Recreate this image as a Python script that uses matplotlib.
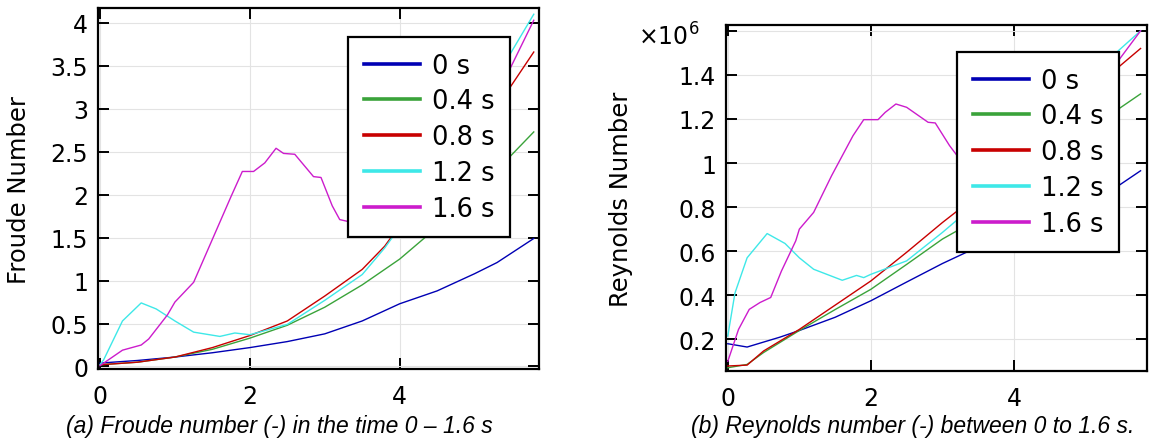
import matplotlib
matplotlib.use("Agg")
import matplotlib.pyplot as plt
from matplotlib.ticker import FuncFormatter

# legend labels / colours
times = ["0 s", "0.4 s", "0.8 s", "1.2 s", "1.6 s"]
colors = ["#0000b4", "#3aa33a", "#c80000", "#3ee8e8", "#cc1ccc"]

# (a) Froude number
fr_x_0 = [0, 0.5, 1, 1.5, 2, 2.5, 3, 3.5, 4, 4.5, 5, 5.3, 5.79]
fr_y_0 = [0.04, 0.07, 0.11, 0.16, 0.22, 0.29, 0.38, 0.53, 0.73, 0.88, 1.08, 1.21, 1.49]
fr_x_04 = [0, 0.5, 1, 1.5, 2, 2.5, 3, 3.5, 4, 4.35, 4.8, 5.2, 5.48, 5.79]
fr_y_04 = [0.02, 0.05, 0.11, 0.2, 0.33, 0.48, 0.69, 0.95, 1.25, 1.51, 1.85, 2.15, 2.45, 2.73]
fr_x_08 = [0, 0.5, 1, 1.5, 2, 2.5, 3, 3.5, 3.8, 3.9, 4.3, 4.8, 5.2, 5.49, 5.79]
fr_y_08 = [0.02, 0.05, 0.11, 0.22, 0.36, 0.53, 0.82, 1.13, 1.40, 1.52, 1.85, 2.4, 2.9, 3.27, 3.66]
fr_x_12 = [0, 0.05, 0.3, 0.55, 0.75, 1.0, 1.25, 1.6, 1.8, 2.0, 2.5, 3.0, 3.5, 3.8, 3.95,
           4.4, 4.9, 5.3, 5.47, 5.79]
fr_y_12 = [0.02, 0.08, 0.53, 0.74, 0.67, 0.53, 0.40, 0.35, 0.39, 0.37, 0.49, 0.77, 1.07, 1.38, 1.56,
           2.0, 2.75, 3.3, 3.63, 4.10]
fr_x_16 = [0, 0.1, 0.3, 0.55, 0.65, 0.9, 1.0, 1.25, 1.5, 1.75, 1.9, 2.05, 2.2, 2.35, 2.45, 2.6,
           2.85, 2.95, 3.1, 3.2, 3.3, 3.6, 4.0, 4.5, 5.0, 5.47, 5.79]
fr_y_16 = [0.01, 0.07, 0.19, 0.25, 0.32, 0.60, 0.75, 0.98, 1.48, 1.98, 2.27, 2.27, 2.37, 2.54, 2.48, 2.47,
           2.21, 2.20, 1.87, 1.71, 1.69, 1.75, 1.95, 2.35, 2.85, 3.46, 4.03]

# (b) Reynolds number, in units of 1e6
re_x_0 = [0, 0.27, 0.73, 1.0, 1.5, 2, 2.5, 3, 3.5, 4, 4.5, 5.0, 5.46, 5.77]
re_y_0 = [0.18, 0.165, 0.21, 0.24, 0.30, 0.375, 0.46, 0.544, 0.62, 0.70, 0.77, 0.83, 0.897, 0.965]
re_x_04 = [0, 0.27, 0.5, 1, 1.5, 2, 2.5, 3, 3.3, 3.8, 4.3, 4.8, 5.2, 5.46, 5.77]
re_y_04 = [0.071, 0.086, 0.14, 0.24, 0.335, 0.427, 0.54, 0.655, 0.71, 0.82, 0.94, 1.07, 1.17, 1.245, 1.314]
re_x_08 = [0, 0.27, 0.5, 1, 1.5, 2, 2.5, 3, 3.3, 3.8, 4.3, 4.8, 5.2, 5.46, 5.77]
re_y_08 = [0.079, 0.083, 0.147, 0.245, 0.355, 0.465, 0.595, 0.73, 0.806, 0.93, 1.07, 1.23, 1.35, 1.435, 1.52]
re_x_12 = [0, 0.1, 0.27, 0.55, 0.8, 1.0, 1.2, 1.6, 1.8, 1.9, 2.0, 2.5, 3.0, 3.3, 3.8, 4.3, 4.8,
           5.2, 5.46, 5.77]
re_y_12 = [0.215, 0.41, 0.57, 0.68, 0.635, 0.57, 0.518, 0.468, 0.49, 0.48, 0.495, 0.556, 0.685, 0.768,
           0.88, 1.03, 1.22, 1.40, 1.51, 1.60]
re_x_16 = [0, 0.15, 0.3, 0.45, 0.6, 0.75, 0.95, 1.0, 1.2, 1.45, 1.75, 1.9, 2.1, 2.2, 2.35, 2.5, 2.8,
           2.9, 3.1, 3.2, 3.3, 3.7, 4.2, 4.7, 5.1, 5.46, 5.77]
re_y_16 = [0.10, 0.245, 0.336, 0.367, 0.39, 0.51, 0.647, 0.70, 0.776, 0.942, 1.124, 1.197, 1.197, 1.23,
           1.268, 1.253, 1.185, 1.182, 1.079, 1.036, 1.033, 1.0, 1.1, 1.25, 1.37, 1.465, 1.60]

fr_series = [(fr_x_0, fr_y_0), (fr_x_04, fr_y_04), (fr_x_08, fr_y_08), (fr_x_12, fr_y_12), (fr_x_16, fr_y_16)]
re_series = [(re_x_0, re_y_0), (re_x_04, re_y_04), (re_x_08, re_y_08), (re_x_12, re_y_12), (re_x_16, re_y_16)]

x_ticks = [0, 2, 4]
fr_ticks = [0, 0.5, 1, 1.5, 2, 2.5, 3, 3.5, 4]
re_ticks = [0.2, 0.4, 0.6, 0.8, 1.0, 1.2, 1.4, 1.6]

plt.rcParams["font.family"] = "DejaVu Sans"
plt.rcParams["mathtext.fontset"] = "dejavusans"

fig = plt.figure(figsize=(11.5, 4.39), dpi=100)
ax1 = fig.add_axes([0.085, 0.157, 0.3837, 0.822])
ax2 = fig.add_axes([0.631, 0.153, 0.3664, 0.788])


def style(ax, series, yticks, ylim, ylabel, labelpad, legend_anchor):
    for (xs, ys), c, lab in zip(series, colors, times):
        ax.plot(xs, ys, color=c, lw=1.0, label=lab)
    ax.set_xlim(-0.03, 5.86)
    ax.set_ylim(*ylim)
    ax.set_xticks(x_ticks)
    ax.set_yticks(yticks)
    ax.yaxis.set_major_formatter(FuncFormatter(lambda v, p: "%g" % round(v, 2)))
    ax.grid(True, color="#e3e3e3", lw=0.8)
    ax.set_axisbelow(True)
    ax.tick_params(direction="in", length=8, width=1.4, top=True, right=True, labelsize=17)
    ax.tick_params(axis="x", pad=11)
    ax.tick_params(axis="y", pad=7)
    for s in ax.spines.values():
        s.set_linewidth(1.6)
    ax.set_ylabel(ylabel, fontsize=17.5, labelpad=labelpad)
    leg = ax.legend(loc="upper right", bbox_to_anchor=legend_anchor, borderaxespad=0,
                    fontsize=18.5, frameon=True, fancybox=False, framealpha=1,
                    edgecolor="black", labelspacing=0.38, borderpad=0.6,
                    handlelength=2.2, handletextpad=0.45)
    leg.get_frame().set_linewidth(1.6)
    for h in leg.get_lines():
        h.set_linewidth(2.6)
    leg.set_zorder(10)
    return leg


style(ax1, fr_series, fr_ticks, (-0.03, 4.17), "Froude Number", 14, (0.934, 0.92))
style(ax2, re_series, re_ticks, (0.057, 1.627), "Reynolds Number", 33, (0.9335, 0.921))

# hide the 1.6 label, the multiplier sits there instead
ax2.yaxis.set_major_formatter(FuncFormatter(lambda v, p: "" if v > 1.5 else "%g" % round(v, 2)))
fig.text(638 / 1150, 1 - 46 / 439, r"$\times10^6$", fontsize=17, ha="left", va="baseline")

fig.text(279 / 1150, 1 - 433 / 439, "(a) Froude number (-) in the time 0 \u2013 1.6 s",
         fontsize=16.5, style="italic", family="Liberation Sans", ha="center", va="baseline")
fig.text(913 / 1150, 1 - 433 / 439, "(b) Reynolds number (-) between 0 to 1.6 s.",
         fontsize=16.5, style="italic", family="Liberation Sans", ha="center", va="baseline")

fig.savefig("out.png", dpi=100)
